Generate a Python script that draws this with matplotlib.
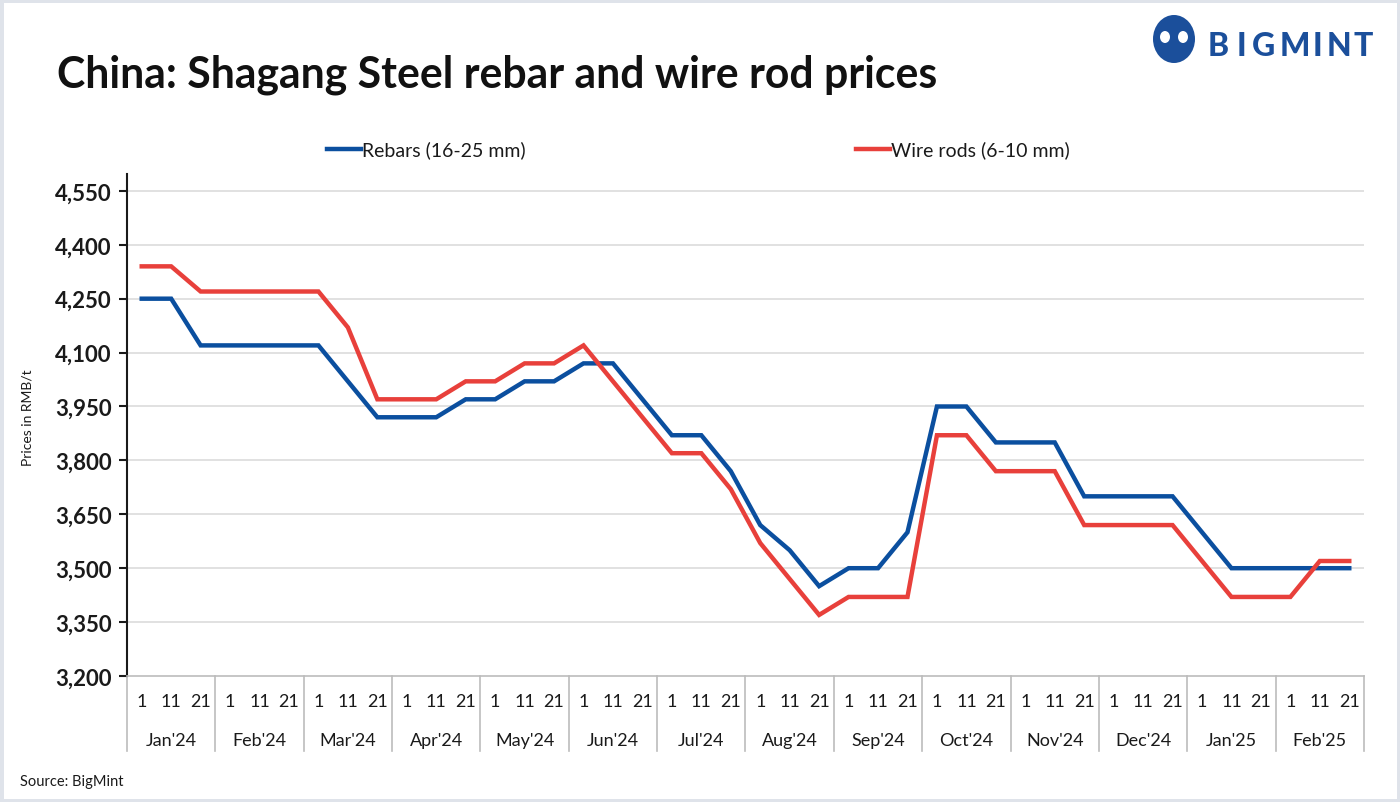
import matplotlib.pyplot as plt
from matplotlib.patches import Rectangle, Ellipse
from matplotlib.lines import Line2D

months = ["Jan'24", "Feb'24", "Mar'24", "Apr'24", "May'24", "Jun'24", "Jul'24",
          "Aug'24", "Sep'24", "Oct'24", "Nov'24", "Dec'24", "Jan'25", "Feb'25"]
days = ["1", "11", "21"]

rebars = [4250, 4250, 4120,
          4120, 4120, 4120,
          4120, 4020, 3920,
          3920, 3920, 3970,
          3970, 4020, 4020,
          4070, 4070, 3970,
          3870, 3870, 3770,
          3620, 3550, 3450,
          3500, 3500, 3600,
          3950, 3950, 3850,
          3850, 3850, 3700,
          3700, 3700, 3700,
          3600, 3500, 3500,
          3500, 3500, 3500]

wire_rods = [4340, 4340, 4270,
             4270, 4270, 4270,
             4270, 4170, 3970,
             3970, 3970, 4020,
             4020, 4070, 4070,
             4120, 4020, 3920,
             3820, 3820, 3720,
             3570, 3470, 3370,
             3420, 3420, 3420,
             3870, 3870, 3770,
             3770, 3770, 3620,
             3620, 3620, 3620,
             3520, 3420, 3420,
             3420, 3520, 3520]

yticks = [3200, 3350, 3500, 3650, 3800, 3950, 4100, 4250, 4400, 4550]

BLUE = '#0b4f9f'
RED = '#e8403b'
LOGO = '#1b4f9b'

plt.rcParams['font.family'] = ['Lato', 'DejaVu Sans']

fig = plt.figure(figsize=(14, 8.03), dpi=100)
W, H = 1400, 803

# outer frame
fig.patches.append(Rectangle((0, 0), 1, 1, transform=fig.transFigure, fill=False,
                             edgecolor='#dfe3ea', linewidth=5))

ax = fig.add_axes([127 / W, 1 - 677 / H, (1364 - 127) / W, (677 - 175) / H])
x = list(range(len(rebars)))
ax.plot(x, rebars, color=BLUE, linewidth=3.2, solid_joinstyle='miter', zorder=3)
ax.plot(x, wire_rods, color=RED, linewidth=3.2, solid_joinstyle='miter', zorder=3)

ax.set_xlim(-0.5, len(x) - 0.5)
ax.set_ylim(3200, 4597)
ax.set_yticks(yticks)
ax.set_yticklabels([f'{v:,}' for v in yticks], fontsize=16, fontweight='bold', color='#1a1a1a')
ax.tick_params(axis='y', length=6, width=1.5, color='#1a1a1a', pad=5)
ax.set_xticks([])
for v in yticks[1:]:
    ax.axhline(v, color='#dedede', linewidth=1.3, zorder=1)
for s in ['top', 'right']:
    ax.spines[s].set_visible(False)
ax.spines['left'].set_color('#1a1a1a')
ax.spines['left'].set_linewidth(1.5)
ax.spines['bottom'].set_color('#bcbcbc')
ax.spines['bottom'].set_linewidth(1.2)

# category table below the axis
trans = ax.get_xaxis_transform()
ph = 677 - 175
box_bottom = -(752 - 677) / ph
for m in range(len(months) + 1):
    ax.add_line(Line2D([m * 3 - 0.5, m * 3 - 0.5], [0, box_bottom], transform=trans,
                       color='#bcbcbc', linewidth=1.2, clip_on=False))
for i in x:
    ax.text(i, -(702 - 677) / ph, days[i % 3], transform=trans,
            ha='center', va='center', fontsize=13, color='#1a1a1a')
for m, name in enumerate(months):
    ax.text(m * 3 + 1, -(741 - 677) / ph, name, transform=trans,
            ha='center', va='center', fontsize=13, color='#1a1a1a')

fig.text(28 / W, 1 - 418 / H, 'Prices in RMB/t', rotation=90, ha='center', va='center',
         fontsize=10, color='#1a1a1a')

# title
fig.text(57 / W, 1 - 75 / H, 'China: Shagang Steel rebar and wire rod prices',
         fontsize=30.8, fontweight='bold', color='#111111', ha='left', va='center')

# legend
for x0, label, c in [(327, 'Rebars (16-25 mm)', BLUE), (856, 'Wire rods (6-10 mm)', RED)]:
    fig.add_artist(Line2D([x0 / W, (x0 + 34) / W], [1 - 150 / H, 1 - 150 / H],
                          transform=fig.transFigure, color=c, linewidth=3.2))
    fig.text((x0 + 35) / W, 1 - 150 / H, label, fontsize=14, color='#1a1a1a',
             ha='left', va='center')

# source
fig.text(20 / W, 1 - 782 / H, 'Source: BigMint', fontsize=10.5, color='#1a1a1a',
         ha='left', va='center')

# logo
fig.patches.append(Ellipse((1174 / W, 1 - 40 / H), 42 / W, 48 / H, transform=fig.transFigure,
                           facecolor=LOGO, edgecolor='none'))
for cx in [1165, 1183]:
    fig.patches.append(Ellipse((cx / W, 1 - 38 / H), 10 / W, 12 / H, transform=fig.transFigure,
                               facecolor='white', edgecolor='none'))
for ch, xs in zip('BIGMINT', [1208, 1237, 1252, 1280, 1313, 1327, 1353]):
    fig.text(xs / W, 1 - 47 / H, ch, fontsize=23, fontweight='black', color=LOGO,
             ha='left', va='center')

fig.savefig('out.png', dpi=100, facecolor='white')
